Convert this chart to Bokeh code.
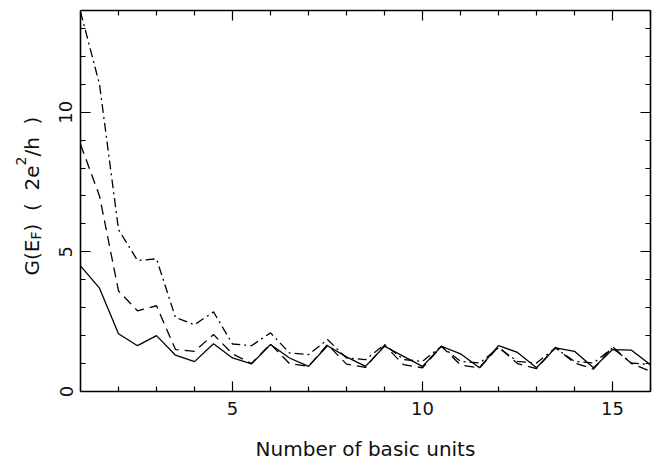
import math
from bokeh.plotting import figure
from bokeh.layouts import row
from bokeh.models import Range1d, LinearAxis, Label, FixedTicker, CustomLabelingPolicy
from bokeh.embed import file_html
from bokeh.resources import INLINE

# ---- data ----
units = [1, 1.5, 2, 2.5, 3, 3.5, 4, 4.5, 5, 5.5, 6, 6.5, 7, 7.5, 8, 8.5,
         9, 9.5, 10, 10.5, 11, 11.5, 12, 12.5, 13, 13.5, 14, 14.5, 15, 15.5, 16]
g_solid = [4.5, 3.7, 2.07, 1.64, 2.0, 1.3, 1.07, 1.71, 1.2, 0.99, 1.68, 1.2, 0.9, 1.64, 1.24, 0.9,
           1.62, 1.26, 0.9, 1.62, 1.35, 0.85, 1.64, 1.4, 0.85, 1.56, 1.44, 0.85, 1.5, 1.48, 0.96]
g_dashed = [8.85, 7.0, 3.6, 2.89, 3.07, 1.5, 1.44, 2.04, 1.35, 1.0, 1.7, 1.0, 0.9, 1.68, 0.98, 0.86,
            1.66, 0.96, 0.85, 1.62, 0.95, 0.84, 1.6, 1.0, 0.82, 1.58, 1.02, 0.8, 1.6, 1.0, 0.72]
g_dashdot = [13.6, 11.0, 5.8, 4.69, 4.75, 2.65, 2.39, 2.85, 1.7, 1.64, 2.1, 1.38, 1.32, 1.86, 1.2, 1.14,
             1.68, 1.14, 1.08, 1.62, 1.08, 1.02, 1.56, 1.08, 1.02, 1.56, 1.08, 1.02, 1.56, 1.02, 0.96]
x_major = [5, 10, 15]
x_minor = [2, 3, 4, 6, 7, 8, 9, 11, 12, 13, 14, 16]
y_major = [0, 5, 10]
y_minor = [1, 2, 3, 4, 6, 7, 8, 9, 11, 12, 13]
x_label = "Number of basic units"
# y label pieces: (text, role) role: "main", "sub", "sup"
NB = "\u00a0"
y_label_parts = [("G(E", "main"), ("F", "sub"), (")" + NB * 2 + "(" + NB * 2 + "2e", "main"),
                 ("2", "sup"), ("/h" + NB * 2 + ")", "main")]

FONT = "DejaVu Sans"
TXT = "#111111"
LABEL_W = 45
H = 463

# ---- main plot ----
p = figure(width=655 - LABEL_W, height=H, output_backend="svg", toolbar_location=None,
           x_range=Range1d(1, 16), y_range=Range1d(0, 13.64),
           min_border_left=80 - LABEL_W, min_border_right=5, min_border_top=10, min_border_bottom=71,
           x_axis_location=None, y_axis_location=None)
p.grid.visible = False
p.outline_line_color = None
p.background_fill_color = "white"
p.border_fill_color = "white"

hide_all = CustomLabelingPolicy(code="for (const i of indices) { indices.unset(i) }\nreturn indices")


def style_axis(ax, major, minor, show_labels):
    ax.ticker = FixedTicker(ticks=major, minor_ticks=minor)
    ax.axis_line_color = "black"
    ax.axis_line_width = 1.6
    ax.major_tick_in = 10
    ax.major_tick_out = 0
    ax.minor_tick_in = 5
    ax.minor_tick_out = 0
    ax.major_tick_line_color = "black"
    ax.minor_tick_line_color = "black"
    ax.major_tick_line_width = 1.2
    ax.minor_tick_line_width = 1.2
    if show_labels:
        ax.major_label_text_font = FONT
        ax.major_label_text_font_size = "18px"
        ax.major_label_text_color = TXT
    else:
        ax.major_label_policy = hide_all
        ax.major_label_text_font_size = "1px"
        ax.major_label_standoff = 0


xb = LinearAxis()
style_axis(xb, x_major, x_minor, True)
xb.major_label_standoff = 10
xb.axis_label = x_label
xb.axis_label_text_font = FONT
xb.axis_label_text_font_size = "20px"
xb.axis_label_text_font_style = "normal"
xb.axis_label_text_color = TXT
xb.axis_label_standoff = 19
p.add_layout(xb, "below")

xt = LinearAxis()
style_axis(xt, x_major, x_minor, False)
p.add_layout(xt, "above")

yl = LinearAxis()
style_axis(yl, y_major, y_minor, True)
yl.major_label_orientation = "vertical"
yl.major_label_standoff = 8
p.add_layout(yl, "left")

yr = LinearAxis()
style_axis(yr, y_major, y_minor, False)
p.add_layout(yr, "right")

# ---- series ----
p.line(units, g_solid, line_color="black", line_width=1.3)
p.line(units, g_dashed, line_color="black", line_width=1.3, line_dash="10 6")
p.line(units, g_dashdot, line_color="black", line_width=1.3, line_dash="9 4 2 4")

# ---- y axis label strip (pieces with sub/superscripts), rotated ----
lf = figure(width=LABEL_W, height=H, output_backend="svg", toolbar_location=None,
            x_range=Range1d(0, LABEL_W), y_range=Range1d(0, H),
            min_border=0, min_border_left=0, min_border_right=0, min_border_top=0, min_border_bottom=0,
            x_axis_location=None, y_axis_location=None)
lf.grid.visible = False
lf.outline_line_color = None
lf.background_fill_color = "white"
lf.border_fill_color = "white"

adv = {"G": 0.775, "(": 0.39, ")": 0.39, "E": 0.632, "F": 0.575, " ": 0.318, NB: 0.318,
       "2": 0.636, "e": 0.615, "/": 0.337, "h": 0.634}
sizes = {"main": 20, "sub": 14, "sup": 14}
shift = {"main": 0, "sub": 4, "sup": -11}
base_x = 31
cur = 116
for txt, role in y_label_parts:
    fs = sizes[role]
    lf.add_layout(Label(x=base_x + shift[role], y=cur, x_units="screen", y_units="screen",
                        text=txt, angle=math.pi / 2, text_font=FONT,
                        text_font_size=f"{fs}px", text_color=TXT,
                        text_align="left", text_baseline="alphabetic"))
    cur += sum(adv.get(c, 0.6) for c in txt) * fs

layout = row(lf, p, spacing=0)
open("out.html", "w").write(file_html(layout, INLINE))
